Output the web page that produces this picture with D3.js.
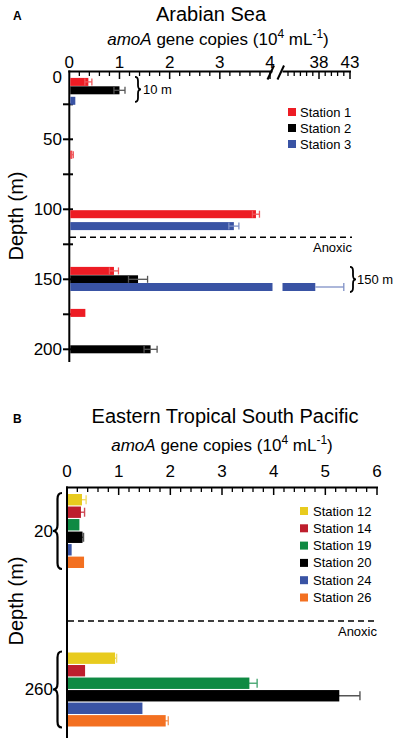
<!DOCTYPE html>
<html><head><meta charset="utf-8">
<script src="https://cdn.jsdelivr.net/npm/d3@7"></script>
<style>
html,body{margin:0;padding:0;background:#fff;}
svg{display:block;font-family:"Liberation Sans",Arial,Helvetica,sans-serif;}
</style></head>
<body>
<svg id="c" width="397" height="745"></svg>
<script>
// ---------------- DATA ----------------
// Panel A: Arabian Sea (depth in m, amoA copies 10^4 mL^-1)
const stationsA = ["Station 1", "Station 2", "Station 3"];
const st1Depth = [9, 61, 103.5, 144, 174];
const st1Val   = [0.38, 0.06, 3.72, 0.89, 0.32];
const st1Err   = [0.07, 0.02, 0.07, 0.09, 0];
const st2Depth = [15, 150, 200];
const st2Val   = [1.0, 1.37, 1.62];
const st2Err   = [0.11, 0.19, 0.13];
const st3Depth = [22.5, 112, 155.5];
const st3Val   = [0.12, 3.28, 37.4];
const st3Err   = [0, 0.1, 4.6];
const anoxicDepthA = 120;
const depthTicksA = [0, 50, 100, 150, 200];
const depthMinorA = [25, 75, 125, 175];
const xTicksLeftA = [0, 1, 2, 3, 4];
const xTicksRightA = [38, 43];

// Panel B: Eastern Tropical South Pacific
const depthGroupsB = ["20", "260"];
const stationsB = ["Station 12", "Station 14", "Station 19", "Station 20", "Station 24", "Station 26"];
const valB20  = [0.29, 0.27, 0.24, 0.30, 0.09, 0.33];
const errB20  = [0.08, 0.07, 0, 0.02, 0, 0];
const valB260 = [0.93, 0.35, 3.53, 5.27, 1.46, 1.91];
const errB260 = [0.03, 0, 0.15, 0.40, 0, 0.05];
const xTicksB = [0, 1, 2, 3, 4, 5, 6];

// ---------------- STYLES ----------------
const colA = ["#ed1c24", "#000000", "#3953a4"];
const errColA = ["#f0585c", "#555555", "#7f90c6"];
const colB = ["#e8cb1e", "#be1e2d", "#0f8a43", "#000000", "#3953a4", "#f37021"];
const errColB = ["#f1dc6a", "#cf4a55", "#4aa874", "#555555", "#7f90c6", "#f69a5c"];

const svg = d3.select("#c");

function brace(x, y0, y1, w, dir) {
  const ym = (y0 + y1) / 2, r = Math.min(6, (y1 - y0) / 6);
  const xb = x, xm = x + dir * w / 2, xt = x + dir * w;
  return `M${xb},${y0} Q${xm},${y0} ${xm},${y0 + r} L${xm},${ym - r} Q${xm},${ym} ${xt},${ym} ` +
         `Q${xm},${ym} ${xm},${ym + r} L${xm},${y1 - r} Q${xm},${y1} ${xb},${y1}`;
}

function subtitle(g, cx, y) {
  const t = g.append("text").attr("x", cx).attr("y", y).attr("text-anchor", "middle")
    .attr("font-size", 17);
  t.append("tspan").attr("font-style", "italic").text("amoA");
  t.append("tspan").text(" gene copies (10");
  t.append("tspan").attr("font-size", 12).attr("dy", -7).text("4");
  t.append("tspan").attr("dy", 7).text(" mL");
  t.append("tspan").attr("font-size", 12).attr("dy", -7).text("-1");
  t.append("tspan").attr("dy", 7).text(")");
}

// ================= PANEL A =================
const gA = svg.append("g");
const yA = d3.scaleLinear().domain([0, 200]).range([69.3, 349.3]);
const xL = d3.scaleLinear().domain([0, 4]).range([69.3, 270]);
const xR = d3.scaleLinear().domain([38, 43]).range([319, 350]);
const axYA = 71.5, breakL = 272.5, breakR = 282.5;

gA.append("text").attr("x", 13).attr("y", 20).attr("font-size", 12).attr("font-weight", "bold").text("A");
gA.append("text").attr("x", 211).attr("y", 21).attr("text-anchor", "middle").attr("font-size", 20).text("Arabian Sea");
subtitle(gA, 218, 45);

gA.append("line").attr("x1", 68.3).attr("x2", breakL).attr("y1", axYA).attr("y2", axYA).attr("stroke", "#000").attr("stroke-width", 2);
gA.append("line").attr("x1", breakR).attr("x2", xR(43) + 1).attr("y1", axYA).attr("y2", axYA).attr("stroke", "#000").attr("stroke-width", 2);
const minorL = d3.range(0, 20).map(i => i * 0.2).filter(v => Math.abs(v - Math.round(v)) > 1e-6);
gA.selectAll(".mnL").data(minorL).join("line").attr("x1", d => xL(d)).attr("x2", d => xL(d))
  .attr("y1", axYA).attr("y2", axYA + 4.5).attr("stroke", "#000").attr("stroke-width", 1.3);
gA.selectAll(".mjL").data(xTicksLeftA.filter(d => d > 0)).join("line").attr("x1", d => xL(d)).attr("x2", d => xL(d))
  .attr("y1", axYA).attr("y2", axYA + 7.5).attr("stroke", "#000").attr("stroke-width", 1.5);
const minorR = d3.range(33, 43).filter(v => v !== 38);
gA.selectAll(".mnR").data(minorR).join("line").attr("x1", d => xR(d)).attr("x2", d => xR(d))
  .attr("y1", axYA).attr("y2", axYA + 4.5).attr("stroke", "#000").attr("stroke-width", 1.3);
gA.selectAll(".mjR").data(xTicksRightA).join("line").attr("x1", d => xR(d)).attr("x2", d => xR(d))
  .attr("y1", axYA).attr("y2", axYA + 7.5).attr("stroke", "#000").attr("stroke-width", 1.5);
gA.selectAll(".tlL").data(xTicksLeftA).join("text").attr("x", d => xL(d)).attr("y", 68)
  .attr("text-anchor", "middle").attr("font-size", 17).text(d => d);
gA.selectAll(".tlR").data(xTicksRightA).join("text").attr("x", d => xR(d)).attr("y", 68)
  .attr("text-anchor", "middle").attr("font-size", 17).text(d => d);
gA.append("line").attr("x1", breakL - 5).attr("y1", axYA + 8).attr("x2", breakL + 1.5).attr("y2", axYA - 6).attr("stroke", "#000").attr("stroke-width", 2);
gA.append("line").attr("x1", breakR - 5).attr("y1", axYA + 8).attr("x2", breakR + 1.5).attr("y2", axYA - 6).attr("stroke", "#000").attr("stroke-width", 2);

gA.append("line").attr("x1", 69.3).attr("x2", 69.3).attr("y1", 70.5).attr("y2", 362).attr("stroke", "#000").attr("stroke-width", 2);
gA.selectAll(".ytA").data(depthTicksA.filter(d => d > 0).concat(depthMinorA)).join("line")
  .attr("x1", 63).attr("x2", 73).attr("y1", d => yA(d)).attr("y2", d => yA(d)).attr("stroke", "#000").attr("stroke-width", 2);
gA.selectAll(".ylA").data(depthTicksA).join("text").attr("x", 62).attr("y", d => yA(d) + (d === 0 ? 8 : 0))
  .attr("dy", "0.35em").attr("text-anchor", "end").attr("font-size", 17).text(d => d);
gA.append("text").attr("transform", "translate(23,216) rotate(-90)").attr("text-anchor", "middle")
  .attr("font-size", 20).text("Depth (m)");

gA.append("line").attr("x1", 70).attr("x2", 352).attr("y1", yA(anoxicDepthA)).attr("y2", yA(anoxicDepthA))
  .attr("stroke", "#000").attr("stroke-width", 1.5).attr("stroke-dasharray", "6,4");
gA.append("text").attr("x", 352).attr("y", yA(anoxicDepthA) + 15).attr("text-anchor", "end").attr("font-size", 13).text("Anoxic");

const barsA = [];
[[st1Depth, st1Val, st1Err], [st2Depth, st2Val, st2Err], [st3Depth, st3Val, st3Err]].forEach((s, si) => {
  s[0].forEach((d, i) => barsA.push({ s: si, depth: d, v: s[1][i], e: s[2][i] }));
});
const bhA = 8;
barsA.forEach(b => {
  const yc = yA(b.depth);
  if (b.v <= 4) {
    gA.append("rect").attr("x", xL(0) + 1).attr("y", yc - bhA / 2).attr("width", xL(b.v) - xL(0) - 1).attr("height", bhA).attr("fill", colA[b.s]);
    if (b.e > 0) {
      const x0 = xL(b.v - b.e), x1 = xL(b.v + b.e);
      gA.append("line").attr("x1", x0).attr("x2", x1).attr("y1", yc).attr("y2", yc).attr("stroke", errColA[b.s]).attr("stroke-width", 1.3);
      [x0, x1].forEach(x => gA.append("line").attr("x1", x).attr("x2", x).attr("y1", yc - 3.5).attr("y2", yc + 3.5).attr("stroke", errColA[b.s]).attr("stroke-width", 1.3));
    }
  } else {
    gA.append("rect").attr("x", xL(0) + 1).attr("y", yc - bhA / 2).attr("width", breakL - xL(0) - 1).attr("height", bhA).attr("fill", colA[b.s]);
    gA.append("rect").attr("x", breakR).attr("y", yc - bhA / 2).attr("width", xR(b.v) - breakR).attr("height", bhA).attr("fill", colA[b.s]);
    const x1 = xR(b.v + b.e);
    gA.append("line").attr("x1", xR(b.v)).attr("x2", x1).attr("y1", yc).attr("y2", yc).attr("stroke", errColA[b.s]).attr("stroke-width", 1.3);
    gA.append("line").attr("x1", x1).attr("x2", x1).attr("y1", yc - 4).attr("y2", yc + 4).attr("stroke", errColA[b.s]).attr("stroke-width", 1.3);
  }
});

gA.append("path").attr("d", brace(135, yA(st1Depth[0]) - 5, yA(st3Depth[0]) + 1, 6, 1)).attr("fill", "none").attr("stroke", "#000").attr("stroke-width", 1.8);
gA.append("text").attr("x", 143).attr("y", (yA(st1Depth[0]) + yA(st3Depth[0])) / 2 - 2).attr("dy", "0.35em").attr("font-size", 13).text("10 m");
gA.append("path").attr("d", brace(350, yA(st1Depth[3]) - 4, yA(st3Depth[2]) + 5, 6, 1)).attr("fill", "none").attr("stroke", "#000").attr("stroke-width", 1.8);
gA.append("text").attr("x", 357).attr("y", yA(st2Depth[1])).attr("dy", "0.35em").attr("font-size", 13).text("150 m");

stationsA.forEach((s, i) => {
  const y = 112 + i * 16;
  gA.append("rect").attr("x", 288).attr("y", y - 4).attr("width", 8).attr("height", 8).attr("fill", colA[i]);
  gA.append("text").attr("x", 300).attr("y", y).attr("dy", "0.35em").attr("font-size", 13).text(s);
});

// ================= PANEL B =================
const gB = svg.append("g");
const xB = d3.scaleLinear().domain([0, 6]).range([67, 377]);
const axYB = 487.5;
const yGroupB = d3.scalePoint().domain(depthGroupsB).range([531, 689.5]);
const yStB = d3.scaleBand().domain(stationsB).range([-37, 37]).paddingInner(0.09);

gB.append("text").attr("x", 13).attr("y", 423).attr("font-size", 12).attr("font-weight", "bold").text("B");
gB.append("text").attr("x", 225).attr("y", 423).attr("text-anchor", "middle").attr("font-size", 20).text("Eastern Tropical South Pacific");
subtitle(gB, 222, 451);

gB.append("line").attr("x1", 66).attr("x2", 378).attr("y1", axYB).attr("y2", axYB).attr("stroke", "#000").attr("stroke-width", 2);
const minorB = d3.range(0, 30).map(i => i * 0.2).filter(v => Math.abs(v - Math.round(v)) > 1e-6);
gB.selectAll(".mnB").data(minorB).join("line").attr("x1", d => xB(d)).attr("x2", d => xB(d))
  .attr("y1", axYB).attr("y2", axYB + 4.5).attr("stroke", "#000").attr("stroke-width", 1.3);
gB.selectAll(".mjB").data(xTicksB.filter(d => d > 0)).join("line").attr("x1", d => xB(d)).attr("x2", d => xB(d))
  .attr("y1", axYB).attr("y2", axYB + 7.5).attr("stroke", "#000").attr("stroke-width", 1.5);
gB.selectAll(".tlB").data(xTicksB).join("text").attr("x", d => xB(d)).attr("y", 477)
  .attr("text-anchor", "middle").attr("font-size", 17).text(d => d);

gB.append("line").attr("x1", 67).attr("x2", 67).attr("y1", 486.5).attr("y2", 738).attr("stroke", "#000").attr("stroke-width", 2);
gB.append("text").attr("transform", "translate(23,601) rotate(-90)").attr("text-anchor", "middle")
  .attr("font-size", 20).text("Depth (m)");

gB.append("line").attr("x1", 68).attr("x2", 377).attr("y1", 621).attr("y2", 621)
  .attr("stroke", "#000").attr("stroke-width", 1.5).attr("stroke-dasharray", "6,4");
gB.append("text").attr("x", 377).attr("y", 636).attr("text-anchor", "end").attr("font-size", 13).text("Anoxic");

[[valB20, errB20], [valB260, errB260]].forEach((grp, gi) => {
  const gc = yGroupB(depthGroupsB[gi]);
  stationsB.forEach((s, i) => {
    const y0 = gc + yStB(s), h = yStB.bandwidth(), yc = y0 + h / 2;
    const v = grp[0][i], e = grp[1][i];
    if (e > 0) {
      const x0 = xB(v - e), x1 = xB(v + e);
      gB.append("line").attr("x1", x0).attr("x2", x1).attr("y1", yc).attr("y2", yc).attr("stroke", errColB[i]).attr("stroke-width", 1.4);
      [x0, x1].forEach(x => gB.append("line").attr("x1", x).attr("x2", x).attr("y1", yc - 4.5).attr("y2", yc + 4.5).attr("stroke", errColB[i]).attr("stroke-width", 1.4));
    }
    gB.append("rect").attr("x", xB(0) + 1).attr("y", y0).attr("width", xB(v) - xB(0) - 1).attr("height", h).attr("fill", colB[i]);
  });
  gB.append("path").attr("d", brace(62, gc - 38, gc + 38, 9, -1)).attr("fill", "none").attr("stroke", "#000").attr("stroke-width", 2.2);
  gB.append("text").attr("x", 53).attr("y", gc).attr("dy", "0.35em").attr("text-anchor", "end").attr("font-size", 17).text(depthGroupsB[gi]);
});

stationsB.forEach((s, i) => {
  const y = 511 + i * 17.3;
  gB.append("rect").attr("x", 300).attr("y", y - 4).attr("width", 8).attr("height", 8).attr("fill", colB[i]);
  gB.append("text").attr("x", 313).attr("y", y).attr("dy", "0.35em").attr("font-size", 13).text(s);
});
</script>
</body></html>
